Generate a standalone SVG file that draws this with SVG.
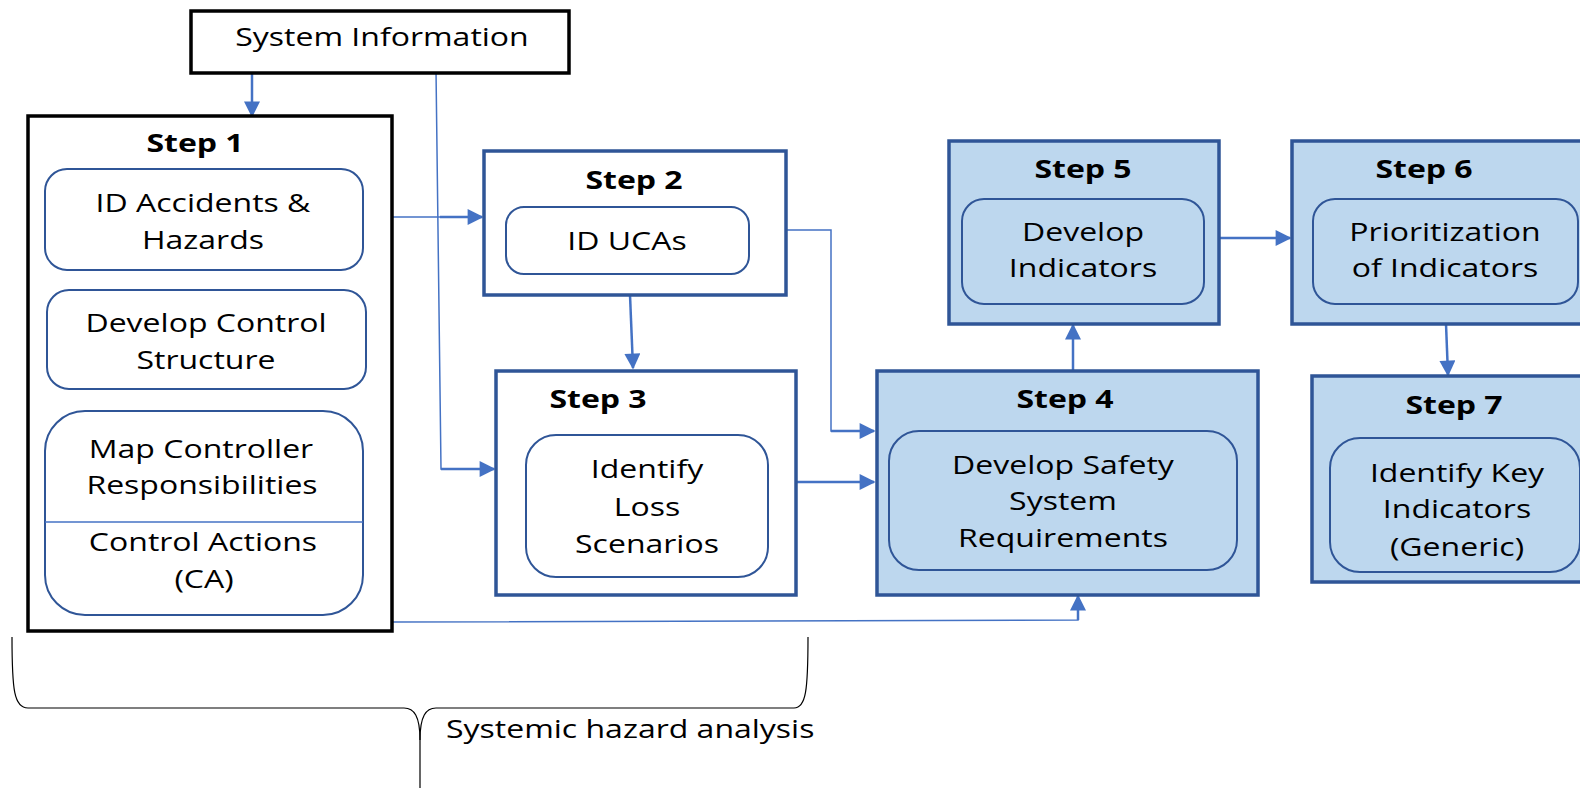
<svg xmlns="http://www.w3.org/2000/svg" width="1580" height="788" viewBox="0 0 1580 788">
  <defs>
    <marker id="arrowL" viewBox="0 0 10 10" refX="9" refY="5" markerWidth="18" markerHeight="16" markerUnits="userSpaceOnUse" orient="auto">
      <path d="M0 0 L10 5 L0 10 Z" fill="#4472C4"/>
    </marker>
  </defs>
  <style>
    .step { fill: #FFFFFF; stroke: #2F5597; stroke-width: 3.5; }
    .step.done { fill: #BDD7EE; }
    .step.black { stroke: #000000; }
    .inner { fill: none; stroke: #2F5597; stroke-width: 2; }
    text { font-family: "Open Sans", "Liberation Sans", sans-serif; font-size: 25px; fill: #000; text-anchor: middle; }
    .title { font-weight: bold; }
    .start { text-anchor: start; }
    .link { fill: none; stroke: #4472C4; stroke-width: 2.5; marker-end: url(#arrowL); }
    .thin { fill: none; stroke: #4472C4; stroke-width: 1.5; }
    .brace { fill: none; stroke: #000; stroke-width: 1.2; }
  </style>

  <rect width="1580" height="788" fill="#FFFFFF"/>

  <!-- connectors -->
  <g id="connectors">
    <path class="link" d="M252 73 L252 116"/>
    <path class="thin" d="M436 70 L441 469 L480 469"/>
    <path class="link" d="M441 469 L494 469"/>
    <path class="thin" d="M392 217 L470 217"/>
    <path class="link" d="M440 217 L482 217"/>
    <path class="link" d="M630 295 L633 368"/>
    <path class="thin" d="M786 230 L831 230 L831 431 L850 431" stroke-width="2"/>
    <path class="link" d="M831 431 L874 431"/>
    <path class="link" d="M796 482 L874 482"/>
    <path class="link" d="M1073 371 L1073 325"/>
    <path class="link" d="M1219 238 L1290 238"/>
    <path class="link" d="M1446 324 L1448 375"/>
    <path class="thin" d="M392 622 L1078 620 L1078 610"/>
    <path class="link" d="M1078 620 L1078 596"/>
  </g>

  <!-- System Information -->
  <g id="system-information">
    <rect x="191" y="11" width="378" height="62" fill="#FFFFFF" stroke="#000" stroke-width="3.5"/>
    <text transform="translate(382 0) scale(1.28 1)" y="46">System Information</text>
  </g>

  <!-- Step 1 -->
  <g id="step1">
    <rect class="step black" x="28" y="116" width="364" height="515"/>
    <text class="title" transform="translate(195 0) scale(1.28 1)" y="152">Step 1</text>
    <rect class="inner" x="45" y="169" width="318" height="101" rx="22"/>
    <text transform="translate(203 0) scale(1.28 1)" y="212">ID Accidents &amp;</text>
    <text transform="translate(203 0) scale(1.28 1)" y="249">Hazards</text>
    <rect class="inner" x="47" y="290" width="319" height="99" rx="22"/>
    <text transform="translate(206 0) scale(1.28 1)" y="332">Develop Control</text>
    <text transform="translate(206 0) scale(1.28 1)" y="369">Structure</text>
    <rect class="inner" x="45" y="411" width="318" height="204" rx="40"/>
    <line x1="45" y1="522" x2="363" y2="522" stroke="#4472C4" stroke-width="1.3"/>
    <text transform="translate(201 0) scale(1.28 1)" y="458">Map Controller</text>
    <text transform="translate(202 0) scale(1.28 1)" y="494">Responsibilities</text>
    <text transform="translate(203 0) scale(1.28 1)" y="551">Control Actions</text>
    <text transform="translate(204 0) scale(1.28 1)" y="588">(CA)</text>
  </g>

  <!-- Step 2 -->
  <g id="step2">
    <rect class="step" x="484" y="151" width="302" height="144"/>
    <text class="title" transform="translate(634 0) scale(1.28 1)" y="189">Step 2</text>
    <rect class="inner" x="506" y="207" width="243" height="67" rx="18"/>
    <text transform="translate(627 0) scale(1.28 1)" y="250">ID UCAs</text>
  </g>

  <!-- Step 3 -->
  <g id="step3">
    <rect class="step" x="496" y="371" width="300" height="224"/>
    <text class="title" transform="translate(598 0) scale(1.28 1)" y="408">Step 3</text>
    <rect class="inner" x="526" y="435" width="242" height="142" rx="30"/>
    <text transform="translate(647 0) scale(1.28 1)" y="478">Identify</text>
    <text transform="translate(647 0) scale(1.28 1)" y="516">Loss</text>
    <text transform="translate(647 0) scale(1.28 1)" y="553">Scenarios</text>
  </g>

  <!-- Step 4 -->
  <g id="step4">
    <rect class="step done" x="877" y="371" width="381" height="224"/>
    <text class="title" transform="translate(1065 0) scale(1.28 1)" y="408">Step 4</text>
    <rect class="inner" x="889" y="431" width="348" height="139" rx="30"/>
    <text transform="translate(1063 0) scale(1.28 1)" y="474">Develop Safety</text>
    <text transform="translate(1063 0) scale(1.28 1)" y="510">System</text>
    <text transform="translate(1063 0) scale(1.28 1)" y="547">Requirements</text>
  </g>

  <!-- Step 5 -->
  <g id="step5">
    <rect class="step done" x="949" y="141" width="270" height="183"/>
    <text class="title" transform="translate(1083 0) scale(1.28 1)" y="178">Step 5</text>
    <rect class="inner" x="962" y="199" width="242" height="105" rx="22"/>
    <text transform="translate(1083 0) scale(1.28 1)" y="241">Develop</text>
    <text transform="translate(1083 0) scale(1.28 1)" y="277">Indicators</text>
  </g>

  <!-- Step 6 -->
  <g id="step6">
    <rect class="step done" x="1292" y="141" width="300" height="183"/>
    <text class="title" transform="translate(1424 0) scale(1.28 1)" y="178">Step 6</text>
    <rect class="inner" x="1313" y="199" width="265" height="105" rx="22"/>
    <text transform="translate(1445 0) scale(1.28 1)" y="241">Prioritization</text>
    <text transform="translate(1445 0) scale(1.28 1)" y="277">of Indicators</text>
  </g>

  <!-- Step 7 -->
  <g id="step7">
    <rect class="step done" x="1312" y="376" width="280" height="206"/>
    <text class="title" transform="translate(1454 0) scale(1.28 1)" y="414">Step 7</text>
    <rect class="inner" x="1330" y="438" width="250" height="134" rx="30"/>
    <text transform="translate(1457 0) scale(1.28 1)" y="482">Identify Key</text>
    <text transform="translate(1457 0) scale(1.28 1)" y="518">Indicators</text>
    <text transform="translate(1457 0) scale(1.28 1)" y="556">(Generic)</text>
  </g>

  <!-- brace grouping steps 1 to 3 -->
  <g id="systemic-hazard-analysis">
    <path class="brace" d="M12 637 C12 690 14 708 28 708 L404 708 C414 708 420 716 420 740 L420 788"/>
    <path class="brace" d="M808 637 C808 690 806 708 794 708 L436 708 C426 708 420 716 420 740"/>
    <text class="start" transform="translate(446 0) scale(1.28 1)" y="738">Systemic hazard analysis</text>
  </g>
</svg>
